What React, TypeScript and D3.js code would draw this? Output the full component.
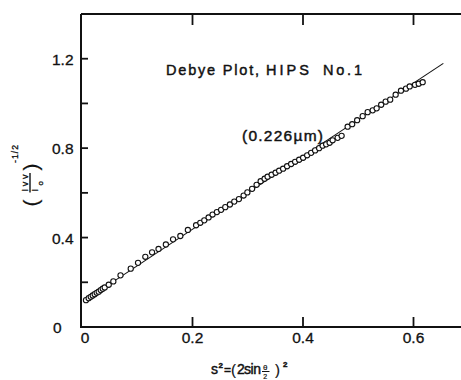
import React from "react";
import * as d3 from "d3";

// s^2 values (x) and (Ivv/Io)^-1/2 values (y)
const sValues = [
  0.0072, 0.0121, 0.0158, 0.0194, 0.023, 0.0266, 0.0302, 0.0339, 0.0375, 0.0411,
  0.0484, 0.0567, 0.0697, 0.0882, 0.1014, 0.1146, 0.1268, 0.1385, 0.1518, 0.1648,
  0.178, 0.1916, 0.2065, 0.2141, 0.2213, 0.2291, 0.2363, 0.2441, 0.2517, 0.2593,
  0.2677, 0.2756, 0.284, 0.2925, 0.2993, 0.3079, 0.316, 0.3233, 0.3305, 0.3359,
  0.3432, 0.3504, 0.3568, 0.364, 0.3712, 0.3785, 0.3857, 0.393, 0.4002, 0.4075,
  0.4147, 0.4219, 0.4292, 0.4355, 0.4419, 0.4482, 0.4536, 0.4627, 0.4699, 0.4808,
  0.489, 0.498, 0.508, 0.517, 0.5261, 0.5333, 0.5415, 0.5496, 0.5578, 0.5677,
  0.5773, 0.5864, 0.5931, 0.6027, 0.6094, 0.6166,
];
const invRootI = [
  0.12, 0.129, 0.135, 0.141, 0.147, 0.153, 0.158, 0.165, 0.171, 0.177,
  0.189, 0.204, 0.231, 0.261, 0.287, 0.314, 0.334, 0.349, 0.369, 0.392,
  0.407, 0.434, 0.455, 0.466, 0.477, 0.49, 0.503, 0.514, 0.524, 0.536,
  0.548, 0.561, 0.572, 0.588, 0.602, 0.618, 0.636, 0.652, 0.663, 0.672,
  0.681, 0.69, 0.699, 0.708, 0.719, 0.729, 0.739, 0.748, 0.757, 0.768,
  0.779, 0.79, 0.8, 0.811, 0.817, 0.824, 0.835, 0.846, 0.855, 0.896,
  0.907, 0.925, 0.943, 0.961, 0.969, 0.978, 0.994, 1.008, 1.017, 1.039,
  1.057, 1.066, 1.076, 1.083, 1.088, 1.095,
];
// fitted straight line end points
const fitX = [0.004, 0.654];
const fitY = [0.117, 1.179];

const xTicks = [0, 0.2, 0.4, 0.6];
const xTickLabels = ["0", "0.2", "0.4", "0.6"];
const yTicks = [0.2, 0.4, 0.6, 0.8, 1.0, 1.2];
const yTickLabels = [
  { v: 0, t: "0" },
  { v: 0.4, t: "0.4" },
  { v: 0.8, t: "0.8" },
  { v: 1.2, t: "1.2" },
];

const W = 461;
const H = 380;
const FONT = "'Liberation Sans', Arial, sans-serif";
const INK = "#111";

export default function App() {
  const x = d3.scaleLinear().domain([0, 0.6]).range([82, 413.5]);
  const y = d3.scaleLinear().domain([0, 1.4]).range([327, 14]);
  const left = 81;
  const right = W;
  const top = y(1.4);
  const bottom = y(0);

  const pts = sValues.map((s, i) => [s, invRootI[i]] as [number, number]);
  const line = d3
    .line<[number, number]>()
    .x((d) => x(d[0]))
    .y((d) => y(d[1]));
  const fit = fitX.map((v, i) => [v, fitY[i]] as [number, number]);

  const txt = { fill: INK, stroke: INK, strokeWidth: 0.45 } as const;

  return (
    <svg
      width={W}
      height={H}
      style={{ position: "absolute", left: 0, top: 0, background: "#fff" }}
      fontFamily={FONT}
    >
      <rect x={0} y={0} width={W} height={H} fill="#fff" />
      {/* frame */}
      <line x1={left} x2={left} y1={top} y2={bottom + 1} stroke={INK} strokeWidth={2} />
      <line x1={left} x2={right} y1={bottom} y2={bottom} stroke={INK} strokeWidth={2} />
      <line x1={left} x2={right} y1={top} y2={top} stroke={INK} strokeWidth={2} />
      {/* y ticks (inward) */}
      {yTicks.map((v) => (
        <line key={"yt" + v} x1={left} x2={left + 7} y1={y(v)} y2={y(v)} stroke={INK} strokeWidth={1.8} />
      ))}
      {/* x ticks bottom & top (inward) */}
      {xTicks.slice(1).map((v) => (
        <g key={"xt" + v}>
          <line x1={x(v)} x2={x(v)} y1={bottom} y2={bottom - 10} stroke={INK} strokeWidth={1.8} />
          <line x1={x(v)} x2={x(v)} y1={top} y2={top + 11} stroke={INK} strokeWidth={1.8} />
        </g>
      ))}
      {/* tick labels */}
      {xTicks.map((v, i) => (
        <text key={"xl" + v} x={i === 0 ? x(v) + 3 : x(v)} y={343} fontSize={15.5} textAnchor="middle" {...txt} strokeWidth={0.3}>
          {xTickLabels[i]}
        </text>
      ))}
      {yTickLabels.map((d) => (
        <text key={"yl" + d.v} x={d.v === 0 ? 53 : 52} y={y(d.v) + 6} fontSize={15.5} textAnchor="start" {...txt} strokeWidth={0.3}>
          {d.t}
        </text>
      ))}
      {/* fit line */}
      <path d={line(fit) || ""} fill="none" stroke={INK} strokeWidth={1.1} />
      {/* data points */}
      {pts.map((p, i) => (
        <circle key={"p" + i} cx={x(p[0])} cy={y(p[1])} r={2.6} fill="#fff" stroke={INK} strokeWidth={1.1} />
      ))}
      {/* title */}
      <text x={166} y={75} fontSize={14.5} {...txt} textLength={93} lengthAdjust="spacing">
        Debye Plot,
      </text>
      <text x={266} y={75} fontSize={14.5} {...txt} textLength={43} lengthAdjust="spacing">
        HIPS
      </text>
      <text x={323} y={75} fontSize={14.5} {...txt} textLength={39} lengthAdjust="spacing">
        No.1
      </text>
      <text x={242} y={141} fontSize={15.5} {...txt} textLength={81} lengthAdjust="spacing">
        (0.226µm)
      </text>
      {/* x axis label */}
      <g>
        <text x={211} y={374} fontSize={14} {...txt}>s</text>
        <text x={218.5} y={368} fontSize={8} fontWeight="bold" {...txt}>2</text>
        <text x={224} y={374} fontSize={12} {...txt}>=</text>
        <text x={231} y={375} fontSize={15} {...txt} strokeWidth={0.2}>(</text>
        <text x={237} y={374} fontSize={14} {...txt}>2</text>
        <text x={244} y={374} fontSize={14} textLength={17} lengthAdjust="spacing" {...txt}>sin</text>
        <text x={263} y={369.5} fontSize={8} {...txt} strokeWidth={0.2}>θ</text>
        <line x1={262} x2={269.5} y1={371.5} y2={371.5} stroke={INK} strokeWidth={1} />
        <text x={263.3} y={378.5} fontSize={7} {...txt} strokeWidth={0.2}>2</text>
        <text x={275} y={375} fontSize={15} {...txt} strokeWidth={0.2}>)</text>
        <text x={283} y={366.5} fontSize={8} fontWeight="bold" {...txt}>2</text>
      </g>
      {/* y axis label, rotated */}
      <g transform="translate(30,185) rotate(-90)">
        <text x={-18} y={7.5} fontSize={21} textAnchor="middle" {...txt} strokeWidth={0.2}>(</text>
        <text x={-6.5} y={-2.5} fontSize={9} textLength={17} lengthAdjust="spacing" {...txt} strokeWidth={0.35}>Ivv</text>
        <line x1={-7.5} x2={12} y1={0} y2={0} stroke={INK} strokeWidth={1.4} />
        <text x={-6.5} y={7.5} fontSize={9} {...txt} strokeWidth={0.35}>I</text>
        <text x={-0.5} y={13} fontSize={8} {...txt} strokeWidth={0.35}>o</text>
        <text x={18} y={7.5} fontSize={21} textAnchor="middle" {...txt} strokeWidth={0.2}>)</text>
        <text x={22} y={-12} fontSize={8.5} textLength={18} lengthAdjust="spacing" {...txt} strokeWidth={0.35}>-1/2</text>
      </g>
    </svg>
  );
}
